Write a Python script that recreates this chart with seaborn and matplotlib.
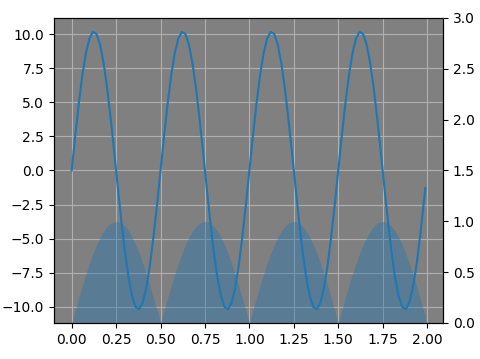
import matplotlib
matplotlib.use("Agg")
import matplotlib.pyplot as plt
import seaborn as sns

t = [0.00, 0.02, 0.04, 0.06, 0.08, 0.10, 0.12, 0.14, 0.16, 0.18,
     0.20, 0.22, 0.24, 0.26, 0.28, 0.30, 0.32, 0.34, 0.36, 0.38,
     0.40, 0.42, 0.44, 0.46, 0.48, 0.50, 0.52, 0.54, 0.56, 0.58,
     0.60, 0.62, 0.64, 0.66, 0.68, 0.70, 0.72, 0.74, 0.76, 0.78,
     0.80, 0.82, 0.84, 0.86, 0.88, 0.90, 0.92, 0.94, 0.96, 0.98,
     1.00, 1.02, 1.04, 1.06, 1.08, 1.10, 1.12, 1.14, 1.16, 1.18,
     1.20, 1.22, 1.24, 1.26, 1.28, 1.30, 1.32, 1.34, 1.36, 1.38,
     1.40, 1.42, 1.44, 1.46, 1.48, 1.50, 1.52, 1.54, 1.56, 1.58,
     1.60, 1.62, 1.64, 1.66, 1.68, 1.70, 1.72, 1.74, 1.76, 1.78,
     1.80, 1.82, 1.84, 1.86, 1.88, 1.90, 1.92, 1.94, 1.96, 1.98, 1.99]

wave = [0.00, 2.54, 4.91, 6.98, 8.61, 9.70, 10.18, 10.02, 9.23, 7.86,
        6.00, 3.75, 1.28, -1.28, -3.75, -6.00, -7.86, -9.23, -10.02, -10.18,
        -9.70, -8.61, -6.98, -4.91, -2.54,
        0.00, 2.54, 4.91, 6.98, 8.61, 9.70, 10.18, 10.02, 9.23, 7.86,
        6.00, 3.75, 1.28, -1.28, -3.75, -6.00, -7.86, -9.23, -10.02, -10.18,
        -9.70, -8.61, -6.98, -4.91, -2.54,
        0.00, 2.54, 4.91, 6.98, 8.61, 9.70, 10.18, 10.02, 9.23, 7.86,
        6.00, 3.75, 1.28, -1.28, -3.75, -6.00, -7.86, -9.23, -10.02, -10.18,
        -9.70, -8.61, -6.98, -4.91, -2.54,
        0.00, 2.54, 4.91, 6.98, 8.61, 9.70, 10.18, 10.02, 9.23, 7.86,
        6.00, 3.75, 1.28, -1.28, -3.75, -6.00, -7.86, -9.23, -10.02, -10.18,
        -9.70, -8.61, -6.98, -4.91, -2.54, -1.28]

envelope = [0.000, 0.125, 0.249, 0.368, 0.482, 0.588, 0.685, 0.771, 0.844, 0.905,
            0.951, 0.982, 0.998, 0.998, 0.982, 0.951, 0.905, 0.844, 0.771, 0.685,
            0.588, 0.482, 0.368, 0.249, 0.125,
            0.000, 0.125, 0.249, 0.368, 0.482, 0.588, 0.685, 0.771, 0.844, 0.905,
            0.951, 0.982, 0.998, 0.998, 0.982, 0.951, 0.905, 0.844, 0.771, 0.685,
            0.588, 0.482, 0.368, 0.249, 0.125,
            0.000, 0.125, 0.249, 0.368, 0.482, 0.588, 0.685, 0.771, 0.844, 0.905,
            0.951, 0.982, 0.998, 0.998, 0.982, 0.951, 0.905, 0.844, 0.771, 0.685,
            0.588, 0.482, 0.368, 0.249, 0.125,
            0.000, 0.125, 0.249, 0.368, 0.482, 0.588, 0.685, 0.771, 0.844, 0.905,
            0.951, 0.982, 0.998, 0.998, 0.982, 0.951, 0.905, 0.844, 0.771, 0.685,
            0.588, 0.482, 0.368, 0.249, 0.125, 0.063]

xticks = [0.00, 0.25, 0.50, 0.75, 1.00, 1.25, 1.50, 1.75, 2.00]
right_ticks = [0.0, 0.5, 1.0, 1.5, 2.0, 2.5, 3.0]

fig = plt.figure(figsize=(4.8, 3.59), dpi=100)
ax = fig.add_axes([54 / 480, 1 - 323 / 359, (443 - 54) / 480, (323 - 18) / 359])
ax.set_facecolor("gray")
ax.grid(True)
ax.set_axisbelow(True)

sns.lineplot(x=t, y=wave, ax=ax, color="C0", linewidth=1.5, sort=False)
ax.set_xticks(xticks)

ax2 = ax.twinx()
ax2.fill_between(t, 0, envelope, color="C0", alpha=0.4, linewidth=0)
ax2.set_ylim(0, 3)
ax2.set_yticks(right_ticks)

fig.savefig("out.png", dpi=100)
